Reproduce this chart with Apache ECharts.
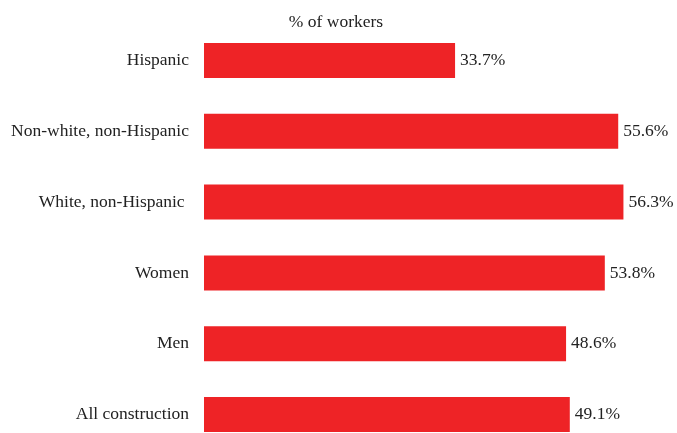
<!DOCTYPE html>
<html>
<head>
<meta charset="utf-8">
<script src="https://cdn.jsdelivr.net/npm/echarts@6/dist/echarts.min.js"></script>
<style>html,body{margin:0;padding:0;background:#fff;}#c{width:677px;height:433px;}</style>
</head>
<body>
<div id="c"></div>
<script>
const categories = ["Hispanic", "Non-white, non-Hispanic", "White, non-Hispanic ", "Women", "Men", "All construction"];
const values = [33.7, 55.6, 56.3, 53.8, 48.6, 49.1];
const titleText = "% of workers";

const chart = echarts.init(document.getElementById('c'));
const font = "'Liberation Serif', 'Times New Roman', serif";
chart.setOption({
  animation: false,
  textStyle: { fontFamily: font },
  title: {
    text: titleText,
    left: 331, top: 8,
    textAlign: 'center',
    textStyle: { fontFamily: font, fontSize: 17.5, fontWeight: 'normal', color: '#222' }
  },
  grid: { left: 204, width: 447, top: 25, height: 425, containLabel: false, outerBoundsMode: 'none' },
  xAxis: {
    type: 'value', min: 0, max: 60, show: false
  },
  yAxis: {
    type: 'category', data: categories, inverse: true,
    axisLine: { show: false }, axisTick: { show: false }, splitLine: { show: false },
    axisLabel: { fontFamily: font, fontSize: 17.5, color: '#222', margin: 15 }
  },
  series: [{
    type: 'bar', data: values, barWidth: 35,
    itemStyle: { color: '#ee2326' },
    label: {
      show: true, position: 'right', distance: 5,
      fontFamily: font, fontSize: 17.5, color: '#222',
      formatter: p => p.value.toFixed(1) + '%'
    }
  }]
});
</script>
</body>
</html>
